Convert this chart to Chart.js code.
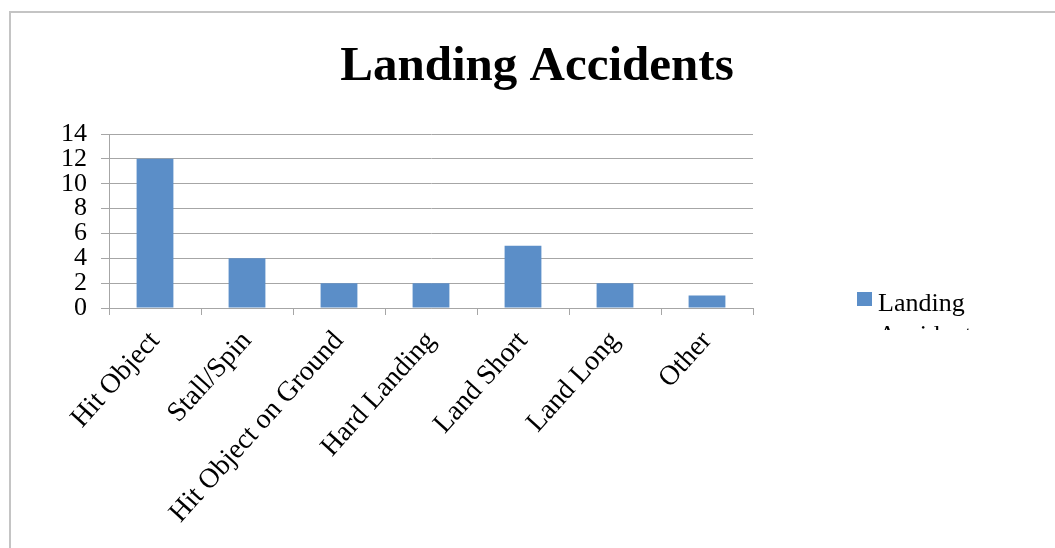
<!DOCTYPE html>
<html>
<head>
<meta charset="utf-8">
<title>Landing Accidents</title>
<script src="https://cdn.jsdelivr.net/npm/chart.js@4/dist/chart.umd.min.js"></script>
<style>
    html, body { margin: 0; padding: 0; background: #ffffff; }
    #wrap { width: 1055px; height: 548px; }
</style>
</head>
<body>
<div id="wrap"><canvas id="accidentChart" width="1055" height="548"></canvas></div>
<script>
// Accident counts by landing phase category
const categories = ['Hit Object', 'Stall/Spin', 'Hit Object on Ground', 'Hard Landing', 'Land Short', 'Land Long', 'Other'];
const accidentCounts = [12, 4, 2, 2, 5, 2, 1];
const seriesName = 'Landing Accidents';
const chartTitle = 'Landing Accidents';

const yMin = 0;
const yMax = 14;
const yStep = 2;

const barColor = '#5b8ec8';
const gridColor = '#a6a6a6';
const serif = '"Liberation Serif", "DejaVu Serif", serif';

// Outer frame line along the top and left edge
const framePlugin = {
    id: 'frame',
    beforeDraw(chart) {
        const ctx = chart.ctx;
        ctx.save();
        ctx.fillStyle = '#ffffff';
        ctx.fillRect(0, 0, chart.width, chart.height);
        ctx.strokeStyle = '#c4c4c4';
        ctx.lineWidth = 2;
        ctx.beginPath();
        ctx.moveTo(10, chart.height);
        ctx.lineTo(10, 12);
        ctx.lineTo(chart.width, 12);
        ctx.stroke();
        ctx.restore();
    }
};

// Title centred over the whole frame rather than the plot
const titlePlugin = {
    id: 'bigTitle',
    afterDraw(chart) {
        const ctx = chart.ctx;
        ctx.save();
        ctx.fillStyle = '#000000';
        ctx.font = 'bold 49px ' + serif;
        ctx.textAlign = 'center';
        ctx.textBaseline = 'alphabetic';
        ctx.fillText(chartTitle, 537, 80);
        ctx.restore();
    }
};

// Legend box on the right; the series name wraps and the second line is cut off
const legendPlugin = {
    id: 'sideLegend',
    afterDraw(chart) {
        const ctx = chart.ctx;
        const meta = chart.getDatasetMeta(0);
        const x = 857, y = 292;
        ctx.save();
        ctx.fillStyle = meta.controller.getDataset().backgroundColor;
        ctx.fillRect(x, y, 15, 14);
        ctx.beginPath();
        ctx.rect(x + 15, y - 20, 200, 38 + 20);
        ctx.clip();
        ctx.fillStyle = '#000000';
        ctx.font = '26px ' + serif;
        ctx.textBaseline = 'alphabetic';
        const words = seriesName.split(' ');
        ctx.fillText(words[0], x + 21, 311);
        ctx.fillText(words[1], x + 21, 343);
        ctx.restore();
    }
};

const ctx = document.getElementById('accidentChart');
new Chart(ctx, {
    type: 'bar',
    data: {
        labels: categories,
        datasets: [{
            label: seriesName,
            data: accidentCounts,
            backgroundColor: barColor,
            borderWidth: 0,
            categoryPercentage: 1.0,
            barPercentage: 0.4
        }]
    },
    options: {
        responsive: false,
        animation: false,
        layout: {
            padding: { left: 0, right: 302, top: 134, bottom: 0 }
        },
        plugins: {
            legend: { display: false },
            title: { display: false },
            tooltip: { enabled: false }
        },
        scales: {
            y: {
                min: yMin,
                max: yMax,
                ticks: {
                    stepSize: yStep,
                    autoSkip: false,
                    color: '#000000',
                    padding: 14,
                    font: { family: serif, size: 26, lineHeight: 1 }
                },
                grid: {
                    color: gridColor,
                    lineWidth: 1,
                    tickLength: 8
                },
                border: { display: true, color: gridColor },
                afterFit(scale) { scale.width = 109; }
            },
            x: {
                ticks: {
                    color: '#000000',
                    minRotation: 48,
                    maxRotation: 48,
                    autoSkip: false,
                    padding: 10,
                    font: { family: serif, size: 28 }
                },
                grid: {
                    offset: true,
                    drawOnChartArea: false,
                    color: gridColor,
                    tickLength: 7
                },
                border: { display: true, color: gridColor },
                afterFit(scale) { scale.height = 240; }
            }
        }
    },
    plugins: [framePlugin, titlePlugin, legendPlugin]
});
</script>
</body>
</html>
